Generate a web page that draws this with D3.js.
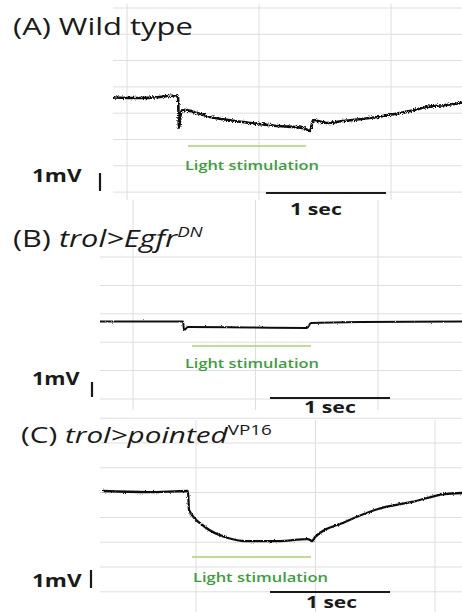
<!DOCTYPE html>
<html>
<head>
<meta charset="utf-8">
<script src="https://cdn.jsdelivr.net/npm/d3@7"></script>
<style>
  body { margin: 0; background: #fff; }
  svg { display: block; }
  text { font-family: "Open Sans", sans-serif; }
</style>
</head>
<body>
<div id="chart"></div>
<script>
// recordings: time in s from start of trace, voltage in mV from resting level
const timeA = [0, 0.225, 0.392, 0.525, 0.542, 0.55, 0.567, 0.583, 0.808, 1.083, 1.367, 1.583, 1.642, 1.667, 1.783, 1.917, 2.2, 2.475, 2.617, 2.892, 2.908]
const voltA = [0, -0.03, 0.03, 0.11, -0.03, -1.69, -0.81, -0.69, -1.08, -1.36, -1.58, -1.69, -1.86, -1.25, -1.42, -1.31, -1.08, -0.75, -0.53, -0.31, -0.28]

const timeB = [0, 0.692, 0.7, 0.733, 1.25, 1.725, 1.758, 2.167, 3.017]
const voltB = [0, 0, -0.57, -0.37, -0.4, -0.43, -0.1, -0.03, 0]

const timeC = [0, 0.375, 0.708, 0.717, 0.85, 1.042, 1.183, 1.458, 1.708, 1.742, 1.767, 2.017, 2.292, 2.575, 2.85, 2.992]
const voltC = [0, -0.06, 0, -1.06, -2.0, -2.61, -2.78, -2.78, -2.67, -2.78, -2.56, -1.72, -1.0, -0.61, -0.17, -0.11]

// light on / off (s), one per panel
const stimOn = [0.625, 0.767, 0.742]
const stimOff = [1.608, 1.758, 1.733]

const panelLetters = ['(A) ', '(B) ', '(C) ']
const genotypes = ['Wild type', 'trol>Egfr', 'trol>pointed']
const superscripts = ['', 'DN', 'VP16']
const stimLabel = 'Light stimulation'
const mvLabel = '1mV'
const secLabel = '1 sec'
const barMV = 1
const barSec = 1

const width = 462
const height = 612

const svg = d3.select('#chart')
  .append('svg')
  .attr('width', width)
  .attr('height', height)

// roughness of the recorded traces
const defs = svg.append('defs')
function noiseFilter(id, amount) {
  const f = defs.append('filter')
    .attr('id', id)
    .attr('filterUnits', 'userSpaceOnUse')
    .attr('x', 0).attr('y', 0).attr('width', width).attr('height', height)
  f.append('feTurbulence')
    .attr('type', 'fractalNoise')
    .attr('baseFrequency', 0.9)
    .attr('numOctaves', 2)
    .attr('seed', 3)
    .attr('result', 'noise')
  f.append('feDisplacementMap')
    .attr('in', 'SourceGraphic')
    .attr('in2', 'noise')
    .attr('scale', amount)
    .attr('xChannelSelector', 'R')
    .attr('yChannelSelector', 'G')
}
noiseFilter('rough-a', 4)
noiseFilter('rough-b', 2)
noiseFilter('rough-c', 2.5)

// squeeze/stretch text horizontally to the width it has in the figure
function label(x, y, w, parts, size, weight, color) {
  const t = svg.append('text')
    .attr('font-size', size)
    .attr('font-weight', weight || 400)
    .attr('fill', color || '#1a1a1a')
  parts.forEach(p => {
    t.append('tspan')
      .text(p.text)
      .attr('font-style', p.italic ? 'italic' : null)
      .attr('font-size', p.size || null)
      .attr('dy', p.dy || null)
  })
  const bw = t.node().getBBox().width
  t.attr('transform', `translate(${x},${y}) scale(${w / bw},1)`)
  return t
}

const panels = [
  {
    time: timeA, volt: voltA, filter: 'rough-a', traceWidth: 2.6,
    x0: 113, base: 97.5, mvPx: 18,
    gridX: [127, 132, 3, 4, 200], gridY: [8, 26.3, 8, 113],
    stimY: 146, stimText: [185, 170, 134],
    mv: [32, 182, 50], mvBar: [100, 173],
    secBar: [1.275, 193], secText: [290, 215, 52],
    title: [13, 35, 180, 24],
  },
  {
    time: timeB, volt: voltB, filter: 'rough-b', traceWidth: 2,
    x0: 100, base: 321.5, mvPx: 15,
    gridX: [133, 122.5, 3, 200, 410], gridY: [257, 28.4, 6, 100],
    stimY: 346, stimText: [185, 368, 134],
    mv: [32, 385, 48], mvBar: [92, 382],
    secBar: [1.417, 398], secText: [304, 413, 52],
    title: [13, 247, 190, 23],
  },
  {
    time: timeC, volt: voltC, filter: 'rough-c', traceWidth: 2.3,
    x0: 103, base: 491, mvPx: 18,
    gridX: [196, 119.5, 3, 420, 612], gridY: [418.2, 24.8, 8, 100],
    stimY: 557, stimText: [193, 582, 135],
    mv: [32, 587, 50], mvBar: [91, 570],
    secBar: [1.392, 592], secText: [306, 608, 51],
    title: [21, 443, 251, 22],
  },
]

panels.forEach((p, i) => {
  const x = d3.scaleLinear().domain([0, 3]).range([p.x0, p.x0 + 360])
  const y = d3.scaleLinear().domain([0, -3]).range([p.base, p.base + 3 * p.mvPx])

  // gridlines
  const [gx, gdx, gnx, gy0, gy1] = p.gridX
  const [hy, hdy, hny, hx0] = p.gridY
  const grid = svg.append('g').attr('stroke', '#dedede').attr('stroke-width', 1)
  grid.selectAll('line.v')
    .data(d3.range(gnx))
    .join('line')
    .attr('class', 'v')
    .attr('x1', k => gx + k * gdx).attr('x2', k => gx + k * gdx)
    .attr('y1', gy0).attr('y2', gy1)
  grid.selectAll('line.h')
    .data(d3.range(hny))
    .join('line')
    .attr('class', 'h')
    .attr('x1', hx0).attr('x2', width)
    .attr('y1', k => hy + k * hdy).attr('y2', k => hy + k * hdy)

  // trace
  const line = d3.line()
    .x(d => x(d[0]))
    .y(d => y(d[1]))
    .curve(d3.curveMonotoneX)
  svg.append('path')
    .datum(p.time.map((t, j) => [t, p.volt[j]]))
    .attr('fill', 'none')
    .attr('stroke', '#111')
    .attr('stroke-width', p.traceWidth)
    .attr('stroke-linejoin', 'round')
    .attr('filter', `url(#${p.filter})`)
    .attr('d', line)

  // light stimulation bar
  svg.append('line')
    .attr('x1', x(stimOn[i])).attr('x2', x(stimOff[i]))
    .attr('y1', p.stimY).attr('y2', p.stimY)
    .attr('stroke', '#a9d46f')
    .attr('stroke-width', 1.5)
  label(p.stimText[0], p.stimText[1], p.stimText[2], [{ text: stimLabel }], 13, 600, '#38a038')

  // 1 mV scale bar
  svg.append('line')
    .attr('x1', p.mvBar[0]).attr('x2', p.mvBar[0])
    .attr('y1', p.mvBar[1])
    .attr('y2', p.mvBar[1] + (y(-barMV) - y(0)))
    .attr('stroke', '#1a1a1a')
    .attr('stroke-width', 2.2)
  label(p.mv[0], p.mv[1], p.mv[2], [{ text: mvLabel }], 18, 700)

  // 1 sec scale bar
  svg.append('line')
    .attr('x1', x(p.secBar[0])).attr('x2', x(p.secBar[0] + barSec))
    .attr('y1', p.secBar[1]).attr('y2', p.secBar[1])
    .attr('stroke', '#1a1a1a')
    .attr('stroke-width', 1.8)
  label(p.secText[0], p.secText[1], p.secText[2], [{ text: secLabel }], 16, 700)

  // title
  const parts = [{ text: panelLetters[i] }, { text: genotypes[i], italic: i > 0 }]
  if (superscripts[i]) {
    parts.push({ text: superscripts[i], italic: i === 1, size: i === 1 ? 14 : 14, dy: i === 1 ? -10 : -8 })
  }
  label(p.title[0], p.title[1], p.title[2], parts, p.title[3], 400)
})
</script>
</body>
</html>
